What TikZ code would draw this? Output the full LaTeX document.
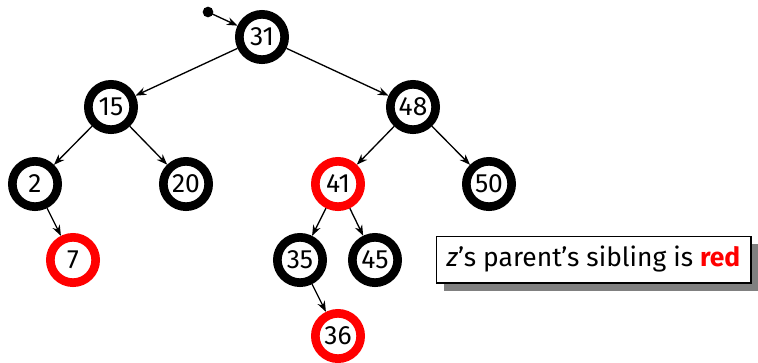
\documentclass[tikz,border=0pt]{standalone}
\usepackage{fontspec}
\setmainfont{Fira Sans}
\usetikzlibrary{arrows.meta, shadows}

\begin{document}
\begin{tikzpicture}[x=0.75pt, y=-0.75pt, every node/.style={font=\fontsize{19.8}{23}\selectfont}]

    \useasboundingbox (0,0) rectangle (758,362);

    % --- 1. Stile fuer Knoten und Kanten ---
    \tikzset{schwarzknoten/.style={circle, draw=black, line width=6.5pt, minimum size=34pt, inner sep=0pt, fill=white}}
    \tikzset{rotknoten/.style={schwarzknoten, draw=red}}
    \tikzset{kante/.style={-{Stealth[length=8pt, width=6pt]}, line width=1pt, black}}

    % --- 2. Knoten des Baums ---
    \node[schwarzknoten] (n31) at (262,37) {31};
    \node[schwarzknoten] (n15) at (111,107) {15};
    \node[schwarzknoten] (n48) at (413,107) {48};
    \node[schwarzknoten] (n2) at (35,184) {2};
    \node[schwarzknoten] (n20) at (186,184) {20};
    \node[rotknoten] (n41) at (338,184) {41};
    \node[schwarzknoten] (n50) at (489,184) {50};
    \node[rotknoten] (n7) at (73,260) {7};
    \node[schwarzknoten] (n35) at (300,260) {35};
    \node[schwarzknoten] (n45) at (375,260) {45};
    \node[rotknoten] (n36) at (338,336) {36};

    % --- 3. Wurzelzeiger ---
    \coordinate (wurzel) at (208,12);
    \fill (wurzel) circle (4pt);
    \draw[kante] (wurzel) -- (n31);

    % --- 4. Kanten ---
    \draw[kante] (n31) -- (n15);
    \draw[kante] (n31) -- (n48);
    \draw[kante] (n15) -- (n2);
    \draw[kante] (n15) -- (n20);
    \draw[kante] (n48) -- (n41);
    \draw[kante] (n48) -- (n50);
    \draw[kante] (n2) -- (n7);
    \draw[kante] (n41) -- (n35);
    \draw[kante] (n41) -- (n45);
    \draw[kante] (n35) -- (n36);

    % --- 5. Hinweiskasten ---
    \node[draw=black, line width=1pt, fill=white, minimum width=236pt, minimum height=35pt,
          drop shadow={shadow xshift=5.5pt, shadow yshift=-6pt, fill=black!50, opacity=1}]
          (hinweis) at (593.5,259.5) {\textit{z}’s parent’s sibling is \textbf{\color{red}red}};

\end{tikzpicture}
\end{document}
